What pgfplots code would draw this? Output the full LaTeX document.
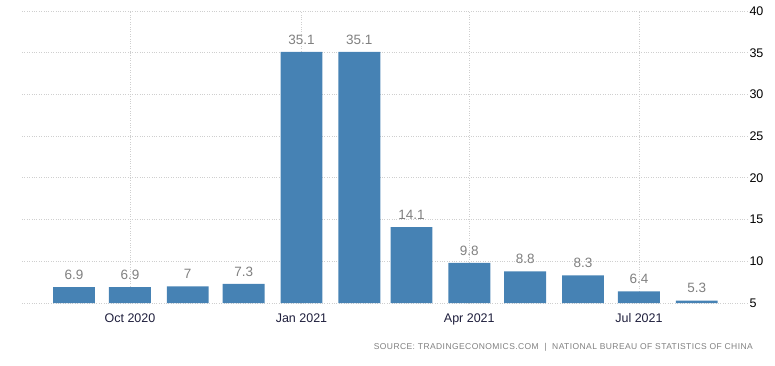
\documentclass[border=0pt]{standalone}
\usepackage{pgfplots}
\pgfplotsset{compat=1.18}
\usepackage{fontspec}
\setmainfont{Liberation Sans}
\definecolor{barblue}{HTML}{4682B4}
\definecolor{gridgray}{HTML}{CFCFCF}
\definecolor{labgray}{HTML}{808080}
\definecolor{xlab}{HTML}{1E1E3C}
\begin{document}
\begin{tikzpicture}[x=1pt,y=1pt]
\path[use as bounding box] (0,0) rectangle (775,365);
\begin{axis}[
  at={(22pt,62pt)}, anchor=south west,
  scale only axis, width=726pt, height=292pt,
  xmin=-27.9, xmax=361.5, ymin=5, ymax=40,
  ytick={5,10,...,40},
  xtick={30,122,212,303},
  xticklabels={Oct 2020,Jan 2021,Apr 2021,Jul 2021},
  yticklabel pos=right,
  axis line style={draw=none},
  tick style={draw=none},
  grid=major,
  major grid style={dotted, gridgray, line width=0.8pt},
  /pgf/number format/assume math mode=true,
  xticklabel style={font=\fontsize{12.5}{14}\selectfont, text=xlab, yshift=-3pt},
  yticklabel style={font=\fontsize{12.5}{14}\selectfont, text=black, anchor=west, xshift=-2pt},
  ybar, bar width=22.5, bar shift=0pt,
  nodes near coords,
  nodes near coords style={font=\fontsize{13.5}{15}\selectfont, text=labgray, yshift=4pt},
]
\addplot[fill=barblue, draw=none] coordinates {
(0,6.9) (30,6.9) (61,7) (91,7.3) (122,35.1) (153,35.1)
(181,14.1) (212,9.8) (242,8.8) (273,8.3) (303,6.4) (334,5.3)};
\end{axis}
\node[anchor=base east, text=labgray, inner sep=0pt, font=\fontsize{8.5}{10}\selectfont\addfontfeature{LetterSpace=5}] at (753,16) {SOURCE: TRADINGECONOMICS.COM \ \textbar\ \ NATIONAL BUREAU OF STATISTICS OF CHINA};
\end{tikzpicture}
\end{document}
